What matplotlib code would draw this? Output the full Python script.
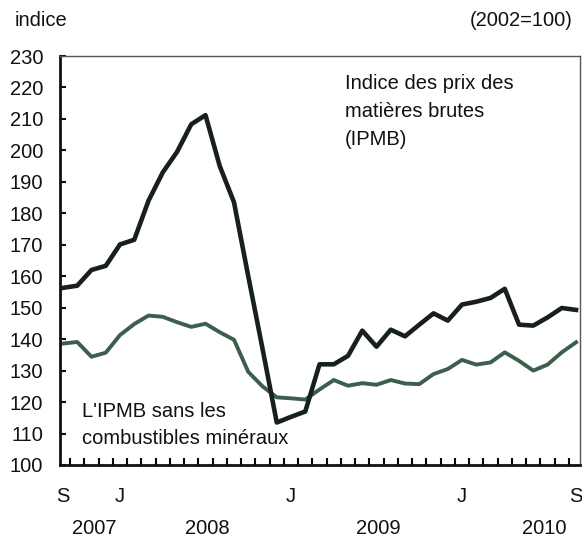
import matplotlib
matplotlib.use("Agg")
import matplotlib.pyplot as plt
import numpy as np

plt.rcParams['font.family'] = ['Liberation Sans', 'DejaVu Sans']

# Data: monthly, Sep 2007 .. Sep 2010
ipmb = [156.3, 157.0, 162.0, 163.3, 170.1, 171.6, 184.0, 193.0, 199.5, 208.3,
        211.2, 195.0, 183.5, 160.0, 137.0, 113.5, 115.3, 117.0, 132.0, 132.0,
        134.7, 142.7, 137.6, 143.0, 140.9, 144.6, 148.2, 145.9, 151.0, 151.9,
        153.1, 156.0, 144.6, 144.3, 146.9, 149.9, 149.3]
ipmb_sans = [138.6, 139.1, 134.4, 135.7, 141.3, 144.8, 147.5, 147.1, 145.4, 143.9,
             144.9, 142.2, 139.8, 129.6, 125.0, 121.5, 121.2, 120.8, 124.0, 127.0,
             125.2, 126.0, 125.5, 127.0, 125.9, 125.7, 128.9, 130.5, 133.4, 131.9,
             132.6, 135.8, 133.1, 130.0, 131.9, 135.8, 139.0]
months = np.arange(len(ipmb))

month_pos = [0, 4, 16, 28, 36]
month_labels = ['S', 'J', 'J', 'J', 'S']
year_pos = [2.2, 10.1, 22.1, 33.8]
year_labels = ['2007', '2008', '2009', '2010']
yticks = np.arange(100, 231, 10)

fs = 14.5
txt_col = '#111111'

fig = plt.figure(figsize=(5.82, 5.37), dpi=100)
ax = fig.add_axes([0.1031, 0.1341, 0.8935, 0.7616])

ax.plot(months, ipmb_sans, color='#3d5e4b', lw=2.8, solid_joinstyle='round')
ax.plot(months, ipmb, color='#18201c', lw=3.3, solid_joinstyle='round')

ax.set_xlim(-0.21, 36.28)
ax.set_ylim(100, 230)

# y axis
ax.set_yticks(yticks)
ax.tick_params(axis='y', direction='in', length=4, width=1.5, pad=12,
               labelsize=fs, colors=txt_col)

# x axis: inward ticks between months, letters and years as text
ax.set_xticks(months[:-1] + 0.5)
ax.set_xticklabels([])
ax.tick_params(axis='x', direction='in', length=5, width=1.5)
for p, l in zip(month_pos, month_labels):
    ax.text(p, -0.078, l, transform=ax.get_xaxis_transform(), ha='center',
            va='center', fontsize=fs, color=txt_col)
for p, l in zip(year_pos, year_labels):
    ax.text(p, -0.156, l, transform=ax.get_xaxis_transform(), ha='center',
            va='center', fontsize=fs, color=txt_col)

for s in ['left', 'bottom']:
    ax.spines[s].set_linewidth(2)
    ax.spines[s].set_color(txt_col)
for s in ['top', 'right']:
    ax.spines[s].set_linewidth(1)
    ax.spines[s].set_color('#555555')

# annotations, one text per line
lines1 = ['Indice des prix des', 'matières brutes', '(IPMB)']
for yf, l in zip([0.934, 0.8655, 0.797], lines1):
    ax.text(0.548, yf, l, transform=ax.transAxes, ha='left', va='center',
            fontsize=fs, color=txt_col)
lines2 = ["L'IPMB sans les", 'combustibles minéraux']
for yf, l in zip([0.132, 0.0636], lines2):
    ax.text(0.042, yf, l, transform=ax.transAxes, ha='left', va='center',
            fontsize=fs, color=txt_col)

# header
fig.text(15 / 582, 1 - 20 / 537, 'indice', ha='left', va='center', fontsize=fs,
         color=txt_col)
fig.text(573 / 582, 1 - 20 / 537, '(2002=100)', ha='right', va='center',
         fontsize=fs, color=txt_col)

fig.savefig('out.png', dpi=100)
